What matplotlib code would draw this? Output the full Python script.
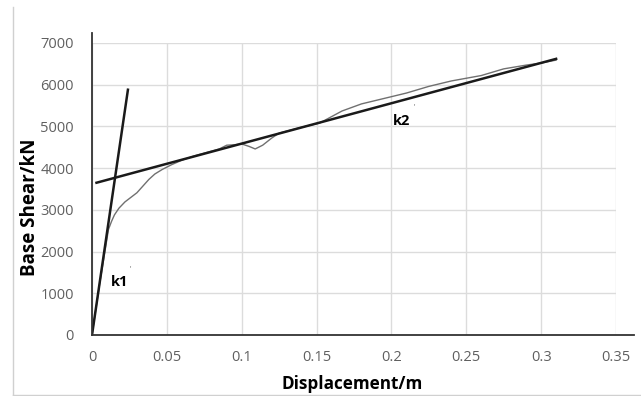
import numpy as np
import matplotlib.pyplot as plt
from matplotlib.lines import Line2D

# ==== Dados ====
disp = [0, 0.005, 0.011, 0.013, 0.015, 0.018, 0.022, 0.026, 0.030, 0.034,
        0.038, 0.042, 0.047, 0.053, 0.060, 0.068, 0.075, 0.085, 0.09, 0.095,
        0.1, 0.105, 0.109, 0.114, 0.12, 0.125, 0.14, 0.152, 0.167, 0.18,
        0.195, 0.21, 0.225, 0.24, 0.26, 0.275, 0.29, 0.3, 0.31]
shear = [0, 1200, 2530, 2720, 2880, 3040, 3190, 3300, 3410, 3570,
         3730, 3860, 3970, 4080, 4190, 4290, 4360, 4460, 4550, 4560,
         4580, 4520, 4460, 4550, 4720, 4840, 4980, 5080, 5370, 5540,
         5670, 5800, 5960, 6090, 6220, 6380, 6470, 6520, 6590]

k1_x = [0, 0.024]
k1_y = [0, 5880]
k2_x = [0.003, 0.31]
k2_y = [3650, 6620]

x_ticks = [0, 0.05, 0.1, 0.15, 0.2, 0.25, 0.3, 0.35]
x_labels = ["0", "0.05", "0.1", "0.15", "0.2", "0.25", "0.3", "0.35"]
y_ticks = [0, 1000, 2000, 3000, 4000, 5000, 6000, 7000]

# ==== Gráfico ====
plt.rcParams["font.family"] = ["Open Sans", "DejaVu Sans"]
fig = plt.figure(figsize=(6.41, 3.96), dpi=100)
ax = fig.add_axes([92 / 641, 1 - 335 / 396, 524 / 641, 292 / 396])

ax.plot(disp, shear, color="#707070", linewidth=1.0, zorder=3)
ax.plot(k1_x, k1_y, color="#1a1a1a", linewidth=1.8, zorder=4)
ax.plot(k2_x, k2_y, color="#1a1a1a", linewidth=1.8, zorder=4)

ax.set_xlim(0, 0.35)
ax.set_ylim(0, 7000)
ax.set_xticks(x_ticks)
ax.set_xticklabels(x_labels)
ax.set_yticks(y_ticks)
ax.grid(True, color="#dcdcdc", linewidth=1.0)
ax.set_axisbelow(True)
ax.tick_params(axis="both", length=0, labelsize=10.5, labelcolor="#606060")
ax.tick_params(axis="x", pad=11)
ax.tick_params(axis="y", pad=13)

for s in ["top", "right", "left", "bottom"]:
    ax.spines[s].set_visible(False)
# eixos prolongados como no Excel
ax.plot([0, 0], [0, 7250], color="#333333", linewidth=1.3, clip_on=False, zorder=5)
ax.plot([0, 0.362], [0, 0], color="#333333", linewidth=1.3, clip_on=False, zorder=5)

ax.set_xlabel("Displacement/m", fontsize=12.3, fontweight="bold")
ax.set_ylabel("Base Shear/kN", fontsize=13.5, fontweight="bold")
ax.xaxis.set_label_coords(0.496, -0.137)
ax.yaxis.set_label_coords(-0.1, 0.438)

ax.text(0.0185, 1280, "k1", fontsize=10.5, fontweight="bold", ha="center", va="center")
ax.text(0.0255, 1580, "'", fontsize=5, color="#555555", ha="center", va="center")
ax.text(0.207, 5130, "k2", fontsize=10.5, fontweight="bold", ha="center", va="center")
ax.text(0.2155, 5480, "'", fontsize=5, color="#555555", ha="center", va="center")

# moldura da área do gráfico
fig.add_artist(Line2D([13 / 641, 13 / 641], [0, 1 - 7 / 396], transform=fig.transFigure,
                      color="#d0d0d0", linewidth=1.0))
fig.add_artist(Line2D([13 / 641, 1], [1 / 396, 1 / 396], transform=fig.transFigure,
                      color="#d0d0d0", linewidth=1.0))

fig.savefig("out.png", dpi=100)
